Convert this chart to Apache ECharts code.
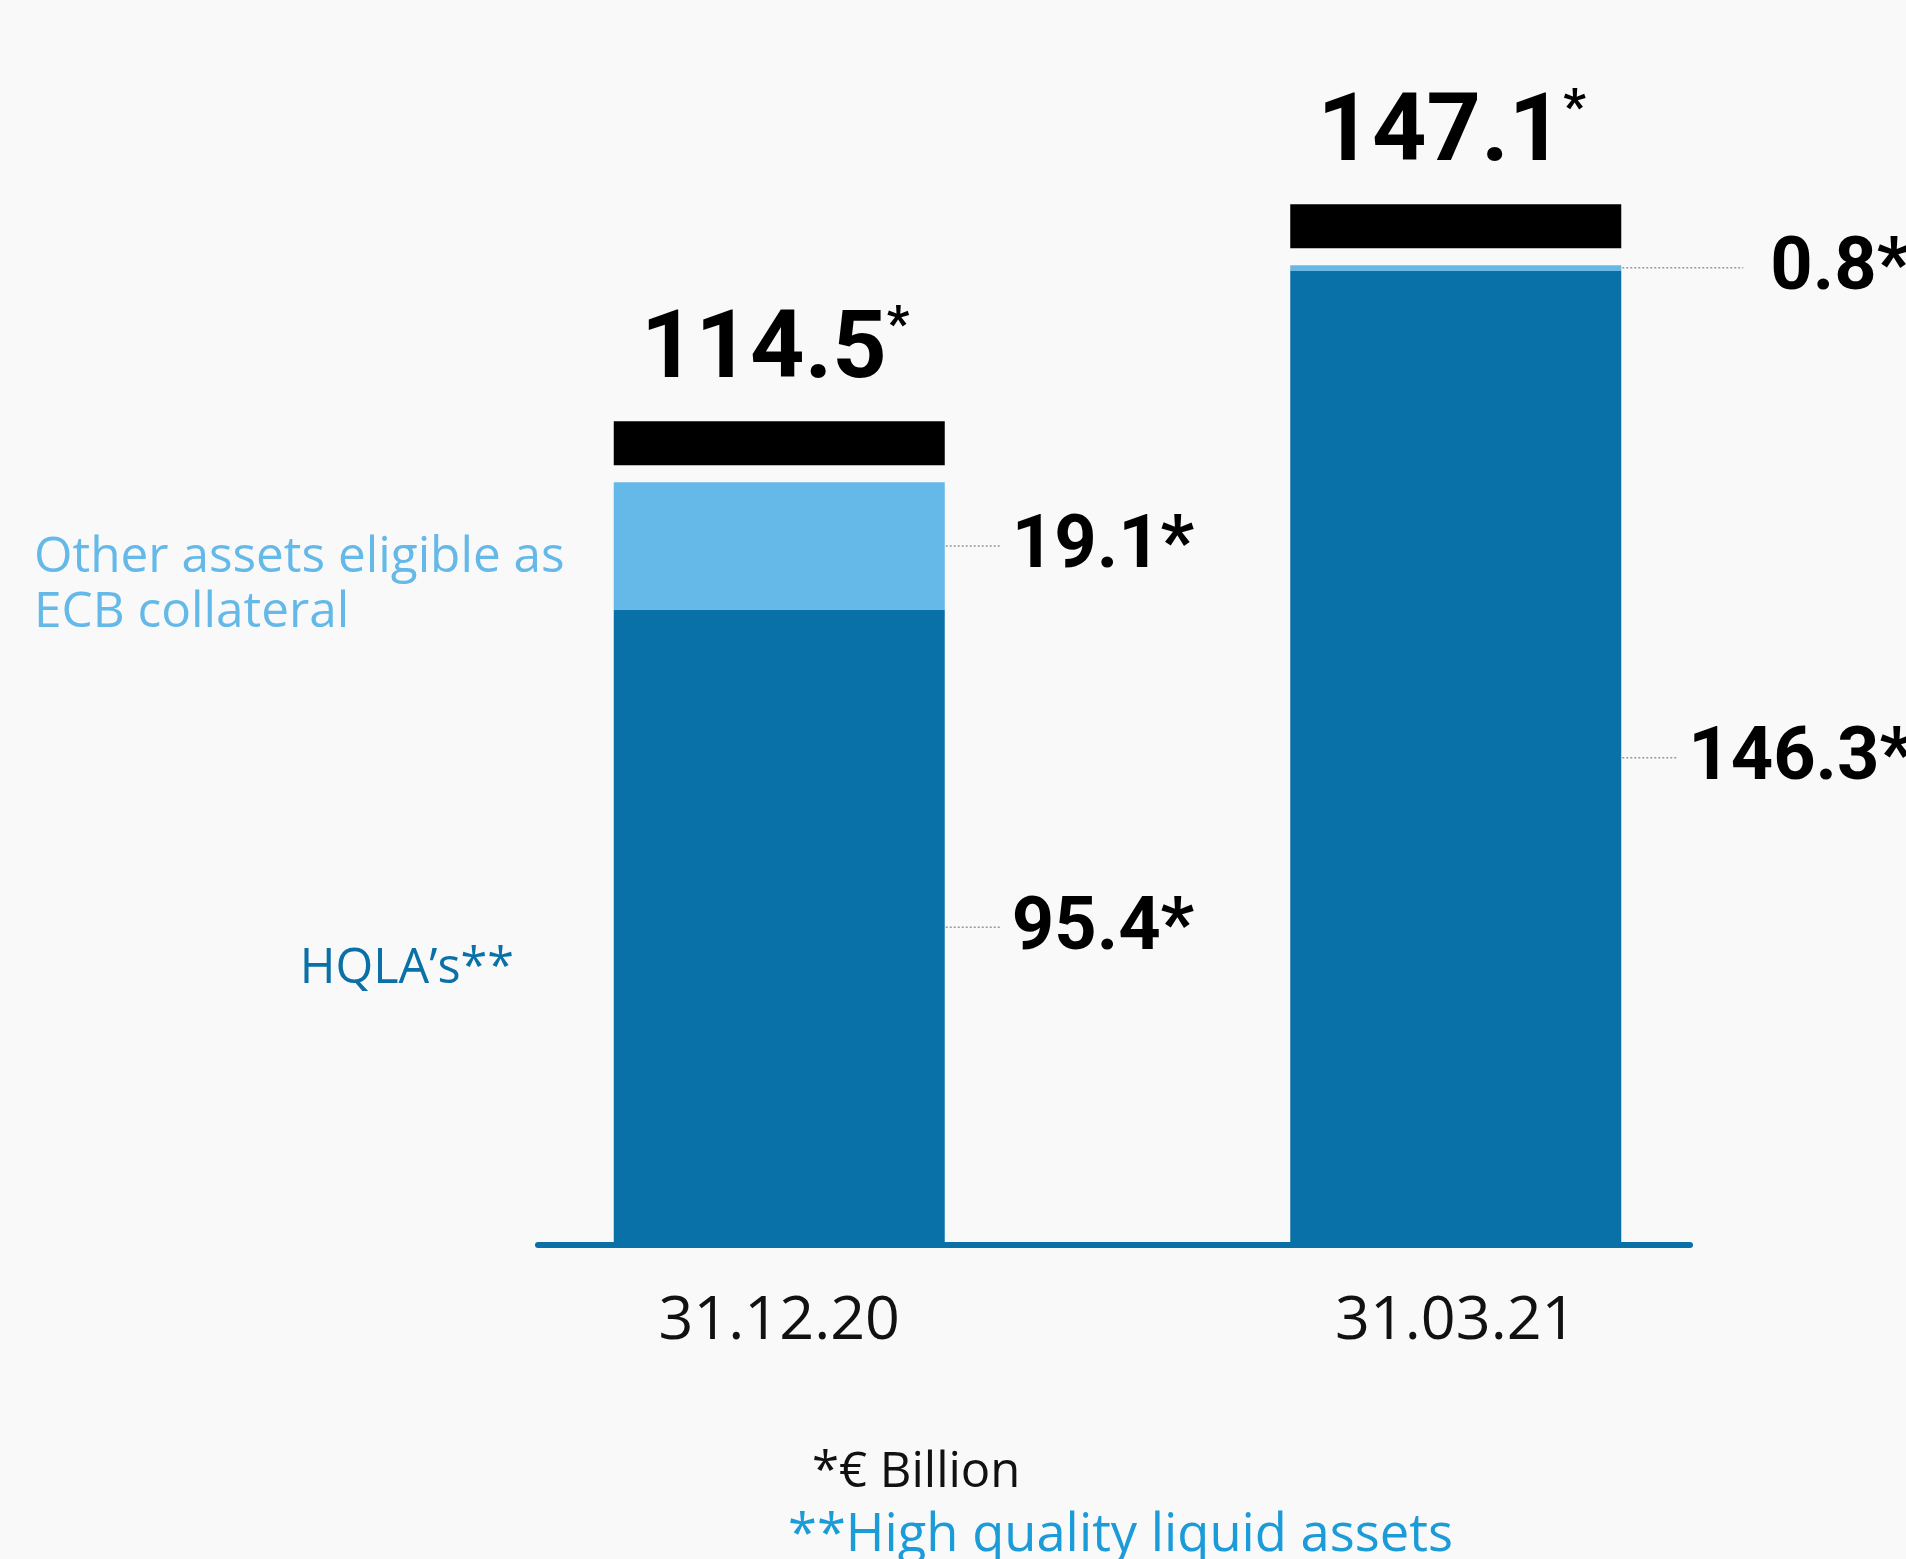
<!DOCTYPE html>
<html>
<head>
<meta charset="utf-8">
<script src="https://cdn.jsdelivr.net/npm/echarts@6/dist/echarts.min.js"></script>
<style>
html, body { margin: 0; padding: 0; background: #f9f9f9; }
#chart { width: 1906px; height: 1559px; }
</style>
</head>
<body>
<div id="chart"></div>
<script>
// ---- data ----
const categories = ['31.12.20', '31.03.21'];
const hqlaValues = [95.4, 146.3];
const otherEcbValues = [19.1, 0.8];
const totalValues = [114.5, 147.1];
const seriesNames = ['HQLA\u2019s**', 'Other assets eligible as\nECB collateral'];
const footnoteUnit = '*\u20ac Billion';
const footnoteHqla = '**High quality liquid assets';

// ---- styles ----
const DARK = '#0a70a8';
const LIGHT = '#64b9e9';
const BAR_W = 331;
const NUM_FONT = 'Roboto, "DejaVu Sans Condensed", sans-serif';
const TXT_FONT = '"Open Sans", "Noto Sans", sans-serif';

const chart = echarts.init(document.getElementById('chart'), null, { renderer: 'canvas' });

const totalData = totalValues.map((v, i) => [i, v]);
const segLabelData = hqlaValues.map((v, i) => [i, 0, v])
  .concat(otherEcbValues.map((v, i) => [i, hqlaValues[i], v]));

const option = {
  backgroundColor: '#f9f9f9',
  animation: false,
  grid: [
    { left: 441, right: 112, top: 46, bottom: 314 },
    { left: 538, right: 216, top: 46, bottom: 314 }
  ],
  xAxis: [
    {
      type: 'category',
      gridIndex: 0,
      data: categories,
      axisLine: { show: false },
      axisTick: { show: false },
      splitLine: { show: false },
      axisLabel: {
        margin: 46,
        fontSize: 61,
        fontFamily: TXT_FONT,
        color: '#111'
      }
    },
    {
      type: 'value',
      gridIndex: 1,
      min: 0, max: 1,
      axisLine: { show: true, onZero: false, lineStyle: { color: DARK, width: 6 } },
      axisTick: { show: false },
      axisLabel: { show: false },
      splitLine: { show: false }
    }
  ],
  yAxis: [
    { type: 'value', gridIndex: 0, min: 0, max: 180, show: false, splitLine: { show: false } },
    { type: 'value', gridIndex: 1, min: 0, max: 180, show: false, splitLine: { show: false } }
  ],
  series: [
    {
      name: 'HQLA',
      type: 'bar',
      stack: 'total',
      barWidth: BAR_W,
      data: hqlaValues,
      itemStyle: { color: DARK },
      z: 3
    },
    {
      name: 'Other',
      type: 'bar',
      stack: 'total',
      barWidth: BAR_W,
      data: otherEcbValues,
      itemStyle: { color: LIGHT },
      z: 3
    },
    {
      name: 'Total',
      type: 'custom',
      data: totalData,
      z: 5,
      renderItem: function (params, api) {
        const x = api.value(0), v = api.value(1);
        const p = api.coord([x, v]);
        const capBottom = p[1] - 17;
        const capTop = capBottom - 44;
        return {
          type: 'group',
          children: [
            { type: 'rect', shape: { x: p[0] - BAR_W / 2, y: capTop, width: BAR_W, height: 44 }, style: { fill: '#000' } },
            {
              type: 'text', x: p[0] - 4, y: capTop - 18,
              style: {
                text: '{n|' + v.toFixed(1) + '}{s|*}',
                align: 'center', verticalAlign: 'bottom',
                rich: {
                  n: { fontSize: 95, fontWeight: 'bold', fontFamily: NUM_FONT, fill: '#000', lineHeight: 100 },
                  s: { fontSize: 50, fontWeight: 'bold', fontFamily: NUM_FONT, fill: '#000', lineHeight: 100, verticalAlign: 'top' }
                }
              }
            }
          ]
        };
      }
    },
    {
      name: 'SegmentLabels',
      type: 'custom',
      data: segLabelData,
      z: 5,
      renderItem: function (params, api) {
        const x = api.value(0), base = api.value(1), v = api.value(2);
        const pTop = api.coord([x, base + v]);
        const pBot = api.coord([x, base]);
        const yc = (pTop[1] + pBot[1]) / 2;
        const right = pTop[0] + BAR_W / 2;
        const segH = pBot[1] - pTop[1];
        const leader = segH < 60 ? 122 : 55;
        const gap = segH < 60 ? 27 : 12;
        return {
          type: 'group',
          children: [
            { type: 'line', shape: { x1: right + 1, y1: yc, x2: right + leader, y2: yc },
              style: { stroke: '#9a9a9a', lineWidth: 1.5, lineDash: [2, 2] } },
            { type: 'text', x: right + leader + gap, y: yc + 3,
              style: { text: v.toFixed(1) + '*', fontSize: 74, fontWeight: 'bold', fontFamily: NUM_FONT,
                       fill: '#000', align: 'left', verticalAlign: 'middle' } }
          ]
        };
      }
    }
  ],
  graphic: [
    { type: 'text', x: 34, y: 530,
      style: { text: seriesNames[1], fill: LIGHT, fontSize: 49.5, fontFamily: TXT_FONT, lineHeight: 55,
               align: 'left', verticalAlign: 'top' } },
    { type: 'text', x: 514, y: 969,
      style: { text: seriesNames[0], fill: DARK, fontSize: 48.5, fontFamily: TXT_FONT,
               align: 'right', verticalAlign: 'middle' } },
    { type: 'text', x: 812, y: 1473,
      style: { text: footnoteUnit, fill: '#111', fontSize: 49, fontFamily: TXT_FONT,
               align: 'left', verticalAlign: 'middle' } },
    { type: 'text', x: 788, y: 1536,
      style: { text: footnoteHqla, fill: '#1b9bd7', fontSize: 52.5, fontFamily: TXT_FONT,
               align: 'left', verticalAlign: 'middle' } }
  ]
};

chart.setOption(option);
</script>
</body>
</html>
